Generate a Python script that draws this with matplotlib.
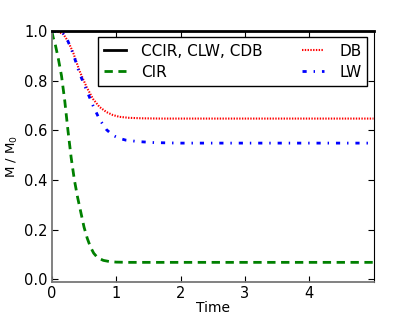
import matplotlib
matplotlib.use("Agg")
import matplotlib.pyplot as plt

# data
t_const = [0, 5]
m_const = [1.0, 1.0]

t_cir = [0, 0.02, 0.05, 0.1, 0.15, 0.2, 0.25, 0.3, 0.35, 0.4, 0.45, 0.5, 0.55, 0.6,
         0.65, 0.7, 0.75, 0.8, 0.9, 1.0, 1.2, 1.5, 2, 3, 4, 5]
m_cir = [1.0, 0.975, 0.95, 0.89, 0.82, 0.72, 0.60, 0.49, 0.40, 0.33, 0.27, 0.21, 0.165, 0.13,
         0.105, 0.09, 0.082, 0.076, 0.071, 0.069, 0.068, 0.068, 0.068, 0.068, 0.068, 0.068]

t_db = [0, 0.1, 0.175, 0.25, 0.33, 0.43, 0.54, 0.64, 0.74, 0.85, 0.95, 1.05, 1.2, 1.4,
        1.7, 2, 3, 4, 5]
m_db = [1.0, 0.997, 0.99, 0.96, 0.915, 0.84, 0.775, 0.727, 0.695, 0.674, 0.662, 0.655, 0.651, 0.649,
        0.648, 0.648, 0.648, 0.648, 0.648]

t_lw = [0, 0.1, 0.175, 0.25, 0.33, 0.43, 0.54, 0.64, 0.74, 0.85, 0.95, 1.05, 1.15, 1.35,
        1.6, 2, 3, 4, 5]
m_lw = [1.0, 0.998, 0.99, 0.96, 0.91, 0.83, 0.762, 0.70, 0.645, 0.603, 0.58, 0.568, 0.561, 0.555,
        0.551, 0.549, 0.549, 0.549, 0.549]

xticks = [0, 1, 2, 3, 4]
yticks = [0.0, 0.2, 0.4, 0.6, 0.8, 1.0]

plt.rcParams['font.family'] = ['DejaVu Sans']
plt.rcParams['lines.scale_dashes'] = False
fig = plt.figure(figsize=(4.15, 3.13), dpi=100)
ax = fig.add_axes([0.125, 0.1, 0.775, 0.8])

ax.plot(t_const, m_const, color='black', lw=2, ls='-', label='CCIR, CLW, CDB', clip_on=False, zorder=3)
ax.plot(t_cir, m_cir, color='green', lw=2, ls=(0, (6, 4)), label='CIR')
ax.plot(t_db, m_db, color='red', lw=1.5, ls=(0, (1, 1)), label='DB')
ax.plot(t_lw, m_lw, color='blue', lw=2, ls=(0, (3, 5, 1, 5)), label='LW')

ax.set_xlim(0, 5)
ax.set_ylim(-0.01, 1.0)
ax.set_xticks(xticks)
ax.set_yticks(yticks)
ax.set_xticklabels([str(x) for x in xticks])
ax.set_yticklabels(['%.1f' % y for y in yticks])
ax.tick_params(direction='in', top=True, right=True, labelsize=10.5, length=4, pad=3)
ax.set_xlabel('Time', fontsize=10, labelpad=0)
ax.set_ylabel('M / M$_0$', fontsize=9.5, labelpad=3)
for s in ['left', 'bottom']:
    ax.spines[s].set_color('#777777')
    ax.spines[s].set_linewidth(1.3)

leg = ax.legend(ncol=2, loc='upper right', fontsize=11, fancybox=False, framealpha=1,
                handlelength=1.4, handletextpad=1.0, borderaxespad=0.4, columnspacing=2.6,
                labelspacing=0.4)
leg.get_frame().set_edgecolor('black')

fig.savefig('out.png', dpi=100)
